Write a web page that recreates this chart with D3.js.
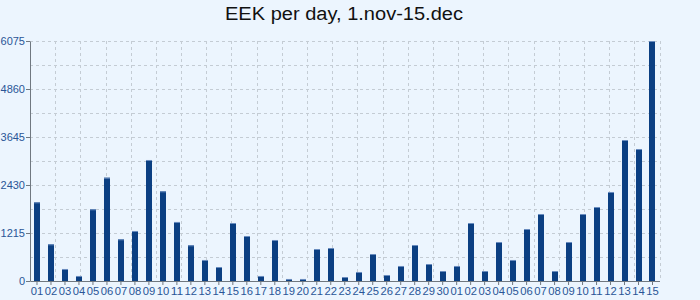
<!DOCTYPE html>
<html><head><meta charset="utf-8">
<script src="https://cdn.jsdelivr.net/npm/d3@7/dist/d3.min.js"></script>
<style>body{margin:0;background:#ecf5fe;}svg{display:block;}</style>
</head><body>
<svg id="c" width="700" height="300"></svg>
<script>
const title = "EEK per day, 1.nov-15.dec";
const days = ["01","02","03","04","05","06","07","08","09","10","11","12","13","14","15","16","17","18","19","20","21","22","23","24","25","26","27","28","29","30",
"01","02","03","04","05","06","07","08","09","10","11","12","13","14","15"];
const values = [1992,929,304,127,1815,2615,1055,1266,3063,2270,1494,904,532,354,1468,1139,127,1038,51,51,810,835,101,228,683,152,380,911,430,253,
380,1468,253,987,532,1316,1696,253,987,1696,1873,2253,3569,3341,6075];
const yTicks = [0,1215,2430,3645,4860,6075];

const svg = d3.select("#c");
svg.append("rect").attr("width",700).attr("height",300).attr("fill","#ecf5fe");
const L=30,R=659.5,T=41,B=281;
const x = d3.scaleBand().domain(d3.range(days.length)).range([L,R]).paddingInner(0.57).paddingOuter(0.285);
const y = d3.scaleLinear().domain([0,6075]).range([B,T]);

// grid
const gy = d3.range(0,6075+1,607.5);
svg.append("g").selectAll("line").data(gy.slice(1)).join("line")
  .attr("x1",L).attr("x2",R).attr("y1",d=>Math.round(y(d))+0.5).attr("y2",d=>Math.round(y(d))+0.5)
  .attr("stroke","#c4ccd4").attr("stroke-dasharray","3,3");
const gx = d3.scaleLinear().domain([0,25]).range([L,R]);
svg.append("g").selectAll("line").data(d3.range(1,26)).join("line")
  .attr("x1",d=>Math.round(gx(d))+0.5).attr("x2",d=>Math.round(gx(d))+0.5).attr("y1",T).attr("y2",B)
  .attr("stroke","#c4ccd4").attr("stroke-dasharray","3,3");

// bars
const bars = svg.append("g");
bars.selectAll("rect.b").data(values).join("rect").attr("class","b")
  .attr("x",(d,i)=>Math.round(x(i))).attr("width",6)
  .attr("y",d=>y(d)).attr("height",d=>B-y(d)).attr("fill","#0b3f82");
bars.selectAll("rect.c").data(values).join("rect").attr("class","c")
  .attr("x",(d,i)=>Math.round(x(i))).attr("width",6)
  .attr("y",d=>y(d)).attr("height",1).attr("fill","#6a8dbf");

// axes
const ya = svg.append("g").attr("transform",`translate(${L},0)`)
  .call(d3.axisLeft(y).tickValues(yTicks).tickFormat(d3.format("d")).tickSize(4).tickSizeOuter(0).tickPadding(1));
ya.select(".domain").attr("stroke","#707880");
ya.selectAll(".tick line").attr("stroke","#707880");
ya.selectAll("text").attr("fill","#2a5597").attr("font-family","Liberation Sans, Arial, sans-serif").attr("font-size",11);

const xa = svg.append("g").attr("transform",`translate(0,${B})`)
  .call(d3.axisBottom(x).tickFormat(i=>days[i]).tickSize(4).tickSizeOuter(0).tickPadding(2));
xa.select(".domain").attr("stroke","#707880");
xa.selectAll(".tick line").attr("stroke","#707880");
xa.selectAll("text").attr("fill","#2a5597").attr("font-family","Liberation Sans, Arial, sans-serif").attr("font-size",11.5)
  .attr("textLength",12.5).attr("lengthAdjust","spacingAndGlyphs");

svg.append("text").attr("x",344).attr("y",20).attr("text-anchor","middle")
  .attr("font-family","Liberation Sans, Arial, sans-serif").attr("font-size",18).attr("fill","#111")
  .attr("textLength",238).attr("lengthAdjust","spacingAndGlyphs")
  .text(title);
</script>
</body></html>
